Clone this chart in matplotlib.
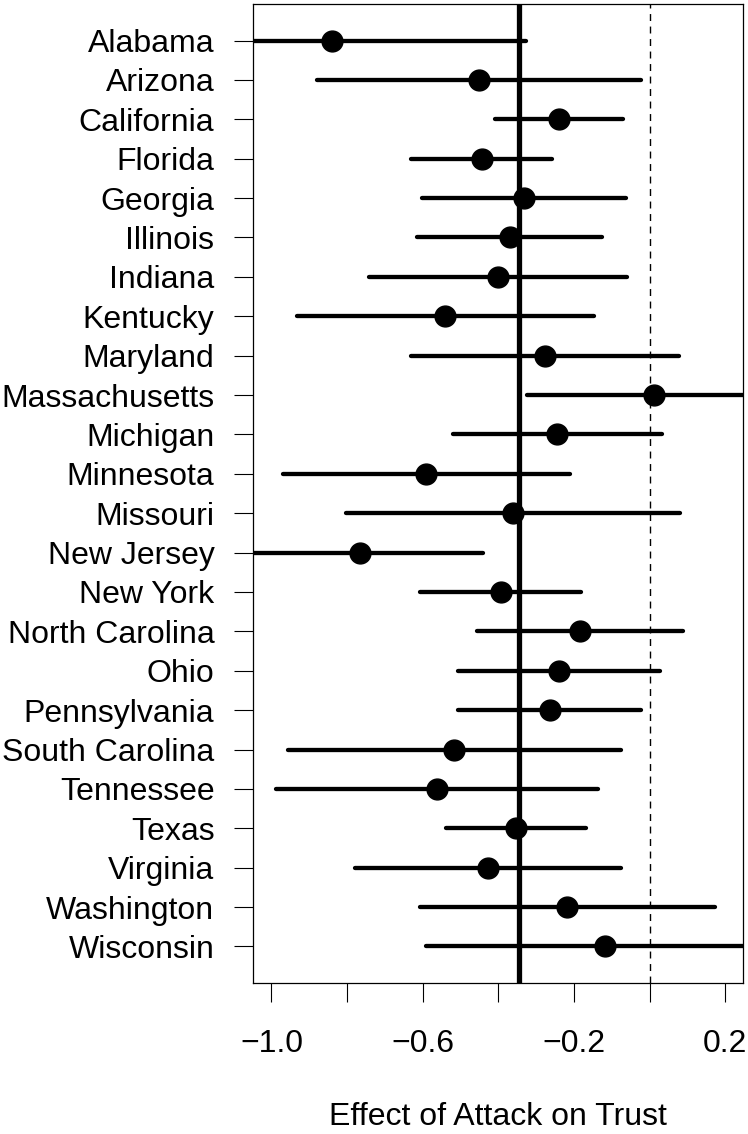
import matplotlib
matplotlib.use("Agg")
import matplotlib.pyplot as plt
import numpy as np

plt.rcParams["font.family"] = ["Liberation Sans", "DejaVu Sans"]

states = [
    "Alabama", "Arizona", "California", "Florida", "Georgia", "Illinois",
    "Indiana", "Kentucky", "Maryland", "Massachusetts", "Michigan", "Minnesota",
    "Missouri", "New Jersey", "New York", "North Carolina", "Ohio",
    "Pennsylvania", "South Carolina", "Tennessee", "Texas", "Virginia",
    "Washington", "Wisconsin",
]
estimate = [
    -0.839, -0.451, -0.240, -0.444, -0.332, -0.370,
    -0.400, -0.540, -0.276, 0.012, -0.244, -0.590,
    -0.361, -0.767, -0.394, -0.184, -0.239,
    -0.264, -0.516, -0.562, -0.353, -0.428,
    -0.217, -0.117,
]
half_width = [
    0.513, 0.428, 0.170, 0.186, 0.271, 0.245,
    0.341, 0.393, 0.354, 0.336, 0.276, 0.379,
    0.441, 0.327, 0.212, 0.272, 0.267,
    0.242, 0.441, 0.427, 0.186, 0.352,
    0.391, 0.475,
]
pooled_effect = -0.346

est = np.array(estimate)
hw = np.array(half_width)
y = np.arange(len(states))

fig = plt.figure(figsize=(7.48, 11.34), dpi=100)
ax = fig.add_axes([0.3387, 0.1334, 0.655, 0.8628])

# confidence intervals, pooled effect, zero reference, then point estimates
segs = ax.hlines(y, est - hw, est + hw, color="black", linewidth=3.1)
segs.set_capstyle("round")
ax.axvline(pooled_effect, color="black", linewidth=3.8)
ax.axvline(0, color="black", linewidth=1.0, linestyle=(0, (5, 4)))
ax.plot(est, y, "o", color="black", markersize=15, zorder=3)

ax.set_xlim(-1.048, 0.248)
ax.set_ylim(len(states) - 1 + 0.92, -0.92)

ax.set_yticks(y)
ax.set_yticklabels(states, fontsize=23)
xt = [-1.0, -0.8, -0.6, -0.4, -0.2, 0.0, 0.2]
ax.set_xticks(xt)
ax.set_xticklabels(["\u22121.0", "", "\u22120.6", "", "\u22120.2", "", "0.2"], fontsize=23)
ax.tick_params(axis="y", length=14, width=0.8, pad=14)
ax.tick_params(axis="x", length=14, width=0.8, pad=19)
for s in ax.spines.values():
    s.set_linewidth(0.9)

ax.set_xlabel("Effect of Attack on Trust", fontsize=23, labelpad=31)

fig.savefig("out.png", dpi=100)
